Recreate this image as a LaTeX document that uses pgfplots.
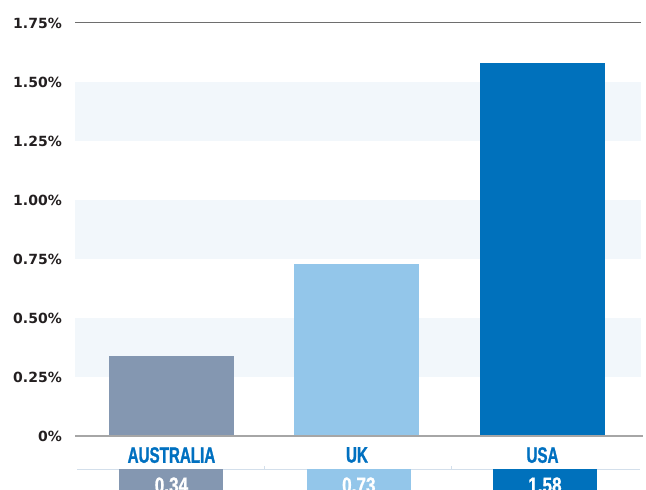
\documentclass[border=0pt]{standalone}
\usepackage{pgfplots}
\pgfplotsset{compat=1.18}
\usepackage{fontspec}
\setmainfont{DejaVu Sans}
\newfontface\condfont[FakeStretch=0.68, FakeBold=1.2]{Liberation Sans Bold}
\newfontface\numfont[FakeStretch=0.78, FakeBold=1]{Liberation Sans Bold}

\definecolor{band}{HTML}{F2F7FB}
\definecolor{ausbar}{HTML}{8497B1}
\definecolor{ukbar}{HTML}{93C6EA}
\definecolor{usabar}{HTML}{0071BC}
\definecolor{catblue}{HTML}{0070C0}
\definecolor{ticktext}{HTML}{231F20}
\definecolor{zeroline}{HTML}{A6A6A6}
\definecolor{topline}{HTML}{6E6E6E}
\definecolor{tableline}{HTML}{D3DFEB}

\pgfplotsset{
  valbox/.style={
    draw=none, mark=none, forget plot,
    point meta=explicit symbolic,
    nodes near coords,
    every node near coord/.append style={
      anchor=north, yshift=-33bp, fill=#1,
      minimum width=104bp, minimum height=32bp, inner sep=0pt,
      text=white, font=\numfont\fontsize{22bp}{22bp}\selectfont}
  }
}

\begin{document}
\begin{tikzpicture}
\useasboundingbox (0,0) rectangle (646bp,490bp);
\clip (0,0) rectangle (646bp,490bp);
\begin{axis}[
  at={(75bp,54bp)}, anchor=south west,
  scale only axis, width=566bp, height=413bp,
  xmin=-0.52, xmax=2.531, ymin=0, ymax=1.75,
  axis line style={draw=none},
  major tick length=0pt,
  xtick={0,1,2}, xticklabels={AUSTRALIA,UK,USA},
  ytick={0,0.25,0.5,0.75,1,1.25,1.5,1.75},
  yticklabels={0\%,0.25\%,0.50\%,0.75\%,1.00\%,1.25\%,1.50\%,1.75\%},
  yticklabel style={font=\bfseries\fontsize{14bp}{14bp}\selectfont,
    text=ticktext, anchor=east, inner sep=0pt, xshift=-13bp},
  xticklabel style={font=\condfont\fontsize{22.3bp}{22bp}\selectfont,
    text=catblue, anchor=north, inner sep=0pt, yshift=-11bp},
  clip=false,
]
% background bands
\fill[band] (axis cs:-0.52,0.25) rectangle (axis cs:2.531,0.5);
\fill[band] (axis cs:-0.52,0.75) rectangle (axis cs:2.531,1.0);
\fill[band] (axis cs:-0.52,1.25) rectangle (axis cs:2.531,1.5);

% bars
\addplot[ybar, bar width=125bp, bar shift=0pt, fill=ausbar, draw=none] coordinates {(0,0.34)};
\addplot[ybar, bar width=125bp, bar shift=0pt, fill=ukbar, draw=none] coordinates {(1,0.73)};
\addplot[ybar, bar width=125bp, bar shift=0pt, fill=usabar, draw=none] coordinates {(2,1.58)};

% lines
\draw[color=topline, line width=1bp] (rel axis cs:0,1) -- (rel axis cs:1,1);
\draw[color=zeroline, line width=1.6bp] (rel axis cs:0,0) -- (axis cs:2.54,0);
\draw[color=tableline, line width=1bp] (axis cs:-0.509,-0.14) -- (axis cs:2.526,-0.14);
\draw[color=tableline, line width=0.8bp] (axis cs:0.5,-0.14) -- (axis cs:0.5,-0.127);
\draw[color=tableline, line width=0.8bp] (axis cs:1.51,-0.14) -- (axis cs:1.51,-0.127);

% value boxes
\addplot[valbox=ausbar] coordinates {(0,0) [0.34]};
\addplot[valbox=ukbar] coordinates {(1.01,0) [0.73]};
\addplot[valbox=usabar] coordinates {(2.013,0) [1.58]};
\end{axis}
\end{tikzpicture}
\end{document}
